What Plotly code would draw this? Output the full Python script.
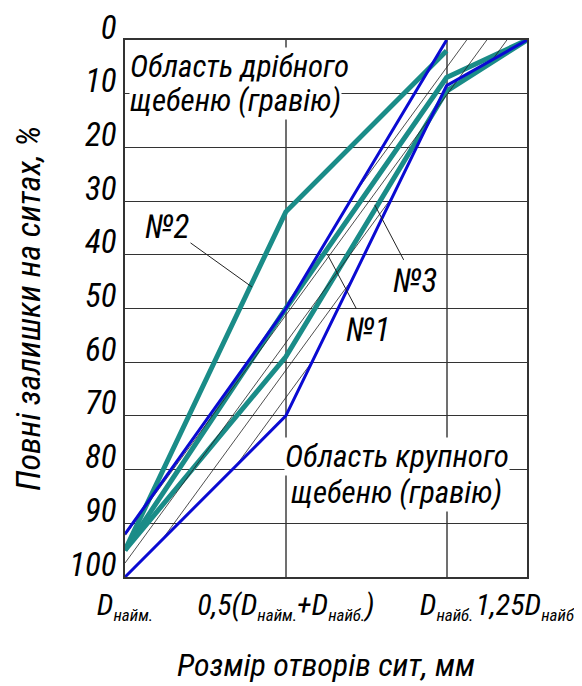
import plotly.graph_objects as go

# ---- data ----
x_ticks = [0, 1, 2, 2.5]
SUB = "<sub><span style='font-size:17px'>{}</span></sub>"
x_ticktext = ["D" + SUB.format("найм."),
              "0,5(D" + SUB.format("найм.") + "+D" + SUB.format("найб.") + ")",
              "D" + SUB.format("найб."),
              "1,25D" + SUB.format("найб.")]
y_ticks = [0, 10, 20, 30, 40, 50, 60, 70, 80, 90, 100]

# boundary lines (blue)
fine_x = [0, 1, 2]
fine_y = [92, 50, 0]
coarse_x = [0, 1, 2, 2.5]
coarse_y = [100, 70, 8.5, 0]

# sample curves (teal)
s1_x = [0, 1, 2, 2.5]
s1_y = [95, 50, 7, 0]
s2_x = [0, 1, 2]
s2_y = [95, 32, 2]
s3_x = [0, 1, 2, 2.5]
s3_y = [95, 59, 9.5, 0]

# hatch segments (thin black) between the boundaries, end points
hatch_x0 = [1.433, 0.0, 0.0, 2.29, 0.227, 0.69]
hatch_y0 = [28.35, 92.25, 97.4, 3.5, 93.2, 79.3]
hatch_x1 = [2.125, 2.25, 1.66, 2.375, 1.415, 1.166]
hatch_y1 = [0, 0, 29.3, 0, 44.5, 59.8]

# leader points
lead_x = [0.79, 1.26, 1.553]
lead_y = [46, 40, 30.7]
lead_text = ["№2", "№1", "№3"]

FONT = "Roboto Condensed, Liberation Sans Narrow, Liberation Sans, sans-serif"
BLUE = "#0a0ad2"
TEAL = "#1a8c88"

fig = go.Figure()

for xs, ys in [(s1_x, s1_y), (s2_x, s2_y), (s3_x, s3_y)]:
    fig.add_trace(go.Scatter(x=xs, y=ys, mode="lines", line=dict(color=TEAL, width=5),
                             showlegend=False))

for x0, y0, x1, y1 in zip(hatch_x0, hatch_y0, hatch_x1, hatch_y1):
    fig.add_trace(go.Scatter(x=[x0, x1], y=[y0, y1], mode="lines",
                             line=dict(color="#222222", width=0.8), showlegend=False, hoverinfo="skip"))

for xs, ys in [(fine_x, fine_y), (coarse_x, coarse_y)]:
    fig.add_trace(go.Scatter(x=xs, y=ys, mode="lines", line=dict(color=BLUE, width=3),
                             showlegend=False))

TXT = dict(family=FONT, color="black", style="italic")

# number labels with leader lines
offsets = [(-85, -61), (40, 75), (40, 76)]
for (lx, ly, t, (ax, ay)) in zip(lead_x, lead_y, lead_text, offsets):
    fig.add_annotation(x=lx, y=ly, text=t, showarrow=True, arrowhead=0, arrowwidth=1,
                       arrowcolor="#222222", ax=ax, ay=ay, font=dict(size=33, **TXT))

# region labels (one annotation per line, each on a white box)
fig.add_annotation(x=0, y=0, xanchor="left", yanchor="middle", xshift=4, yshift=-26,
                   text="Область дрібного", showarrow=False, bgcolor="white", borderpad=0,
                   font=dict(size=31, **TXT))
fig.add_annotation(x=0, y=0, xanchor="left", yanchor="middle", xshift=4, yshift=-60,
                   text="щебеню (гравію)", showarrow=False, bgcolor="white", borderpad=0,
                   font=dict(size=31, **TXT))
fig.add_annotation(x=1.69, y=80, yanchor="middle", yshift=13,
                   text="Область крупного", showarrow=False, bgcolor="white", borderpad=0,
                   font=dict(size=31, **TXT))
fig.add_annotation(x=1.69, y=80, yanchor="middle", yshift=-23,
                   text="щебеню (гравію)", showarrow=False, bgcolor="white", borderpad=0,
                   font=dict(size=31, **TXT))

fig.update_layout(
    width=582, height=686,
    margin=dict(l=117, r=63, t=32, b=117, autoexpand=False),
    plot_bgcolor="white", paper_bgcolor="white",
    font=dict(family=FONT, color="black"),
)
fig.update_xaxes(range=[0, 2.5], tickvals=x_ticks, ticktext=x_ticktext, automargin=False,
                 showgrid=True, gridcolor="#707070", gridwidth=1.5,
                 showline=True, linecolor="#333333", linewidth=1.5, mirror=True,
                 ticks="", zeroline=False, ticklabelstandoff=0, ticklabeloverflow="allow",
                 tickfont=dict(size=30, **TXT),
                 title=dict(text="Розмір отворів сит, мм", font=dict(size=32, **TXT), standoff=30))
fig.update_yaxes(range=[100, 0], tickvals=y_ticks, automargin=False,
                 showgrid=True, gridcolor="#333333", gridwidth=1.2,
                 showline=True, linecolor="#333333", linewidth=1.5, mirror=True,
                 ticks="", zeroline=False, ticklabelstandoff=0, ticklabelshift=13,
                 ticklabeloverflow="allow",
                 tickfont=dict(size=33, **TXT),
                 title=dict(text="Повні залишки на ситах, %", font=dict(size=34, **TXT), standoff=30))

fig.write_html("out.html")
